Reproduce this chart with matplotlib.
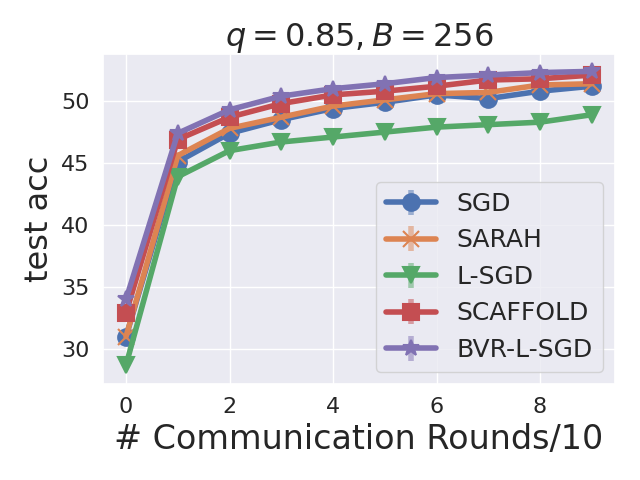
import matplotlib
matplotlib.use("Agg")
import matplotlib.pyplot as plt
import numpy as np
import seaborn as sns

sns.set_theme(style="darkgrid")

rounds = np.arange(10)
sgd = [31.0, 45.1, 47.4, 48.5, 49.4, 49.9, 50.5, 50.2, 50.8, 51.2]
sarah = [31.0, 45.6, 47.8, 48.7, 49.6, 50.1, 50.6, 50.7, 51.3, 51.4]
lsgd = [28.7, 43.9, 46.0, 46.7, 47.1, 47.5, 47.9, 48.1, 48.3, 48.9]
scaffold = [32.9, 46.9, 48.7, 49.8, 50.5, 50.8, 51.2, 51.7, 51.8, 52.1]
bvr = [34.0, 47.4, 49.3, 50.4, 51.0, 51.4, 51.9, 52.1, 52.3, 52.4]
err = [0.3] * 10

series = [
    ("SGD", sgd, "o"),
    ("SARAH", sarah, "x"),
    ("L-SGD", lsgd, "v"),
    ("SCAFFOLD", scaffold, "s"),
    ("BVR-L-SGD", bvr, "*"),
]
colors = sns.color_palette("deep")

fig, ax = plt.subplots(figsize=(6.4, 4.8))
for i, (name, vals, mk) in enumerate(series):
    eb = ax.errorbar(rounds, vals, yerr=err, label=name, color=colors[i],
                     marker=mk, markersize=12, linewidth=4, elinewidth=4,
                     markeredgewidth=1.5)
    for line in eb[2]:
        line.set_alpha(0.5)

ax.set_title("$q = 0.85, B = 256$", fontsize=23)
ax.set_xlabel("# Communication Rounds/10", fontsize=24)
ax.set_ylabel("test acc", fontsize=23)
ax.tick_params(labelsize=16)
ax.set_xticks([0, 2, 4, 6, 8])
ax.set_yticks([30, 35, 40, 45, 50])
ax.set_xlim(-0.45, 9.45)
ax.set_ylim(27.15, 53.8)
ax.legend(loc="lower right", fontsize=18)
fig.subplots_adjust(left=0.1605, right=0.961, top=0.8875, bottom=0.1994)
plt.savefig("out.png", dpi=100)
